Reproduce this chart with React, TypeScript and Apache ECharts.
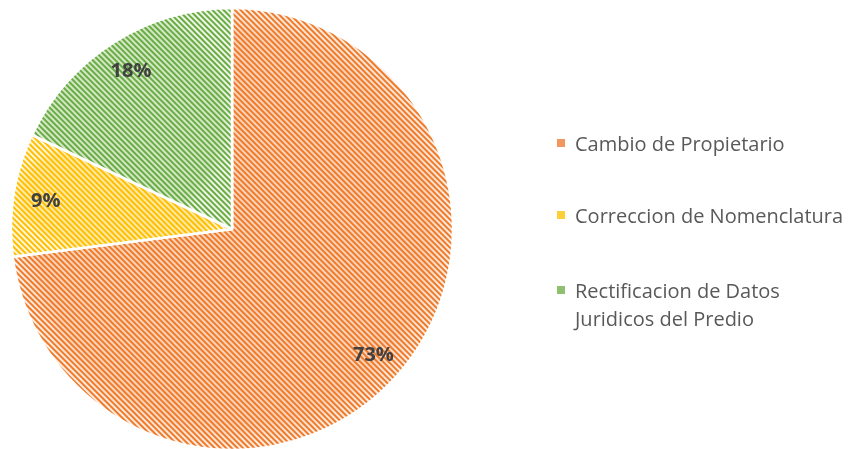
import React, { useEffect, useRef } from "react";
import * as echarts from "echarts";

const categories = ["Cambio de Propietario", "Correccion de Nomenclatura", "Rectificacion de Datos Juridicos del Predio"];
const values = [73, 9, 18];
const labels = ["73%", "9%", "18%"];
const stripeColors = ["#ee7b2c", "#ffbf00", "#6aac43"];
const fillInner = ["#fad3b8", "#ffe9a6", "#d3e8c6"];
const fillOuter = ["#fef0e6", "#fff7dc", "#eef6e8"];
const iconColors = ["#f0975f", "#ffcf3a", "#8fc06f"];

function grad(i: number) {
  return new echarts.graphic.RadialGradient(0.5, 0.5, 0.5, [
    { offset: 0, color: fillInner[i] },
    { offset: 0.88, color: fillInner[i] },
    { offset: 1, color: fillOuter[i] },
  ]);
}

export default function App() {
  const ref = useRef<HTMLDivElement>(null);
  useEffect(() => {
    const chart = echarts.init(ref.current!, null, { renderer: "svg" });
    const data = categories.map((c, i) => ({
      name: c,
      value: values[i],
      itemStyle: {
        color: grad(i),
        decal: {
          symbol: "rect",
          symbolSize: 1,
          color: stripeColors[i],
          dashArrayX: [1, 0],
          dashArrayY: [2, 2],
          rotation: Math.PI / 4,
        },
      },
    }));
    const legendTops = [129, 201, 248];
    const legendText = [
      "Cambio de Propietario",
      "Correccion de Nomenclatura",
      "\nRectificacion de Datos\nJuridicos del Predio",
    ];
    chart.setOption({
      animation: false,
      aria: { enabled: false, decal: { show: true } },
      legend: categories.map((c, i) => ({
        data: [c],
        orient: "vertical",
        left: 557,
        top: legendTops[i],
        padding: 0,
        itemWidth: 8,
        itemHeight: 8,
        icon: "rect",
        selectedMode: false,
        itemStyle: { color: iconColors[i], decal: "none", borderWidth: 0 },
        formatter: () => legendText[i],
        textStyle: {
          fontFamily: "Open Sans",
          fontSize: 20,
          color: "#595959",
          lineHeight: 28,
          padding: [0, 0, 0, 5],
        },
      })),
      series: [
        {
          type: "pie",
          center: [232, 229],
          radius: [0, 221],
          startAngle: 90,
          clockwise: true,
          data,
          label: { show: false },
          labelLine: { show: false },
          itemStyle: { borderColor: "#ffffff", borderWidth: 2.5 },
          emphasis: { disabled: true },
        },
        {
          type: "pie",
          center: [232, 229],
          radius: [150, 221],
          startAngle: 90,
          clockwise: true,
          silent: true,
          data: categories.map((c, i) => ({
            name: c + " ",
            value: values[i],
            itemStyle: { color: "rgba(0,0,0,0)", decal: { symbol: "none" } },
          })),
          label: {
            show: true,
            position: "inside",
            formatter: (p: any) => labels[p.dataIndex],
            fontFamily: "Open Sans",
            fontWeight: "bold",
            fontSize: 20,
            color: "#404040",
          },
          labelLine: { show: false },
          emphasis: { disabled: true },
        },
      ],
    });
    return () => chart.dispose();
  }, []);
  return (
    <div
      ref={ref}
      style={{ position: "fixed", left: 0, top: 0, width: 857, height: 449 }}
    />
  );
}
